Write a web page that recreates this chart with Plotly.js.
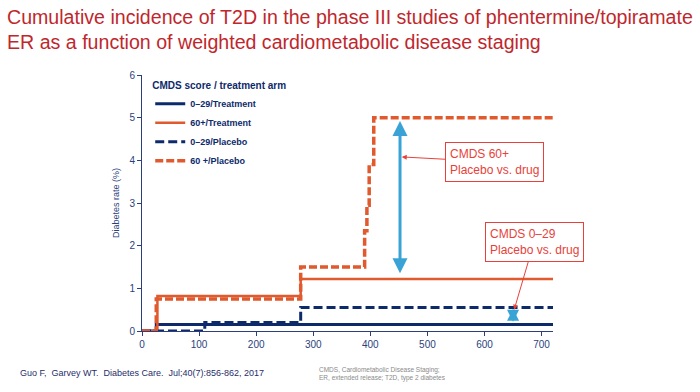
<!DOCTYPE html>
<html><head><meta charset="utf-8">
<script src="https://cdn.plot.ly/plotly-3.0.1.min.js"></script>
<style>body{margin:0;background:#fff}#c{width:700px;height:392px}</style>
</head><body><div id="c"></div>
<script>
// Step-function data (days, diabetes rate %)
const t029x = [0, 25, 720];
const t029y = [0, 0.15, 0.15];
const t60x = [0, 27, 278, 720];
const t60y = [0, 0.82, 1.22, 1.22];
const p029x = [0, 110, 278, 720];
const p029y = [0, 0.2, 0.55, 0.55];
const p60x = [0, 25, 278, 390, 394, 398, 406, 720];
const p60y = [0, 0.75, 1.5, 2.35, 2.95, 3.9, 5.0, 5.0];
const seriesNames = ['0\u201329/Treatment', '60+/Treatment', '0\u201329/Placebo', '60 +/Placebo'];
const xTicks = [0, 100, 200, 300, 400, 500, 600, 700];
const yTicks = [0, 1, 2, 3, 4, 5, 6];

const navy = '#0d2a6b', orange = '#e05a2e', blue = '#3aa3d6', red = '#e8413a';
const mk = (x, y, name, color, dash, w) => ({x, y, name: '<b>' + name + '</b>', type: 'scatter', mode: 'lines',
  line: {shape: 'hv', color, dash, width: w}, hoverinfo: 'skip'});
const data = [
  mk(t029x, t029y, seriesNames[0], navy, 'solid', 3),
  mk(t60x, t60y, seriesNames[1], orange, 'solid', 2.5),
  mk(p029x, p029y, seriesNames[2], navy, '9px,4px', 3),
  mk(p60x, p60y, seriesNames[3], orange, '8px,3px', 3.5)
];
const axcol = '#2b3f7c';
const pw = 700 - 142 - 147, ph = 392 - 75 - 61;
const px = v => (v - 142) / pw, py = v => (392 - 61 - v) / ph;
const layout = {
  width: 700, height: 392,
  margin: {l: 142, r: 147, t: 75, b: 61},
  paper_bgcolor: '#fff', plot_bgcolor: '#fff',
  font: {family: 'Liberation Sans, Arial', color: axcol, size: 10},
  xaxis: {range: [0, 720], tickvals: xTicks, ticks: 'outside', ticklen: 4, tickcolor: axcol,
    showline: true, linecolor: axcol, linewidth: 1, showgrid: false, zeroline: false,
    tickfont: {size: 10, color: axcol}},
  yaxis: {range: [0, 6], tickvals: yTicks, ticks: 'outside', ticklen: 4, tickcolor: axcol,
    showline: true, linecolor: axcol, linewidth: 1, showgrid: false, zeroline: false,
    tickfont: {size: 10, color: axcol},
    title: {text: 'Diabetes rate (%)', standoff: 8, font: {size: 9, color: axcol}}},
  showlegend: true,
  legend: {x: 0.02, y: 0.995, xanchor: 'left', yanchor: 'top', bgcolor: 'rgba(0,0,0,0)',
    font: {size: 9, color: navy},
    title: {text: '<b>CMDS score / treatment arm</b>', font: {size: 10, color: navy}},
    tracegroupgap: 0},
  annotations: [
    {x: 452, y: 4.92, ax: 452, ay: 1.32, axref: 'x', ayref: 'y', xref: 'x', yref: 'y', text: '',
      showarrow: true, arrowside: 'end+start', arrowhead: 2, arrowsize: 1, arrowwidth: 3, arrowcolor: blue},
    {x: 650, y: 0.52, ax: 650, ay: 0.18, axref: 'x', ayref: 'y', xref: 'x', yref: 'y', text: '',
      showarrow: true, arrowside: 'end+start', arrowhead: 2, arrowsize: 0.8, arrowwidth: 3, arrowcolor: blue},
    {x: 455, y: 4.08, xref: 'x', yref: 'y', ax: 93, ay: 5, text: 'CMDS 60+<br>Placebo vs. drug', align: 'left',
      showarrow: true, arrowhead: 2, arrowsize: 1, arrowwidth: 1, arrowcolor: red,
      bordercolor: red, borderwidth: 1, borderpad: 4, bgcolor: '#fff',
      font: {size: 12, color: red}},
    {x: 652, y: 0.5, xref: 'x', yref: 'y', ax: 20, ay: -68, text: 'CMDS 0\u201329<br>Placebo vs. drug', align: 'left',
      showarrow: true, arrowhead: 2, arrowsize: 1, arrowwidth: 1, arrowcolor: red,
      bordercolor: red, borderwidth: 1, borderpad: 4, bgcolor: '#fff',
      font: {size: 12, color: red}},
    {x: px(5), y: py(4), xref: 'paper', yref: 'paper', xanchor: 'left', yanchor: 'top', align: 'left', showarrow: false,
      text: 'Cumulative incidence of T2D in the phase III studies of phentermine/topiramate<br>ER as a function of weighted cardiometabolic disease staging',
      font: {size: 19.6, color: '#c0272d'}},
    {x: px(18), y: py(373), xref: 'paper', yref: 'paper', text: 'Guo F,  Garvey WT.  Diabetes Care.  Jul;40(7):856-862, 2017',
      showarrow: false, xanchor: 'left', yanchor: 'middle',
      font: {size: 9, color: '#1f2d6b'}},
    {x: px(317), y: py(374), xref: 'paper', yref: 'paper', text: 'CMDS, Cardiometabolic Disease Staging;<br>ER, extended release; T2D, type 2 diabetes',
      showarrow: false, xanchor: 'left', yanchor: 'middle', align: 'left',
      font: {size: 6.5, color: '#8a8a8a'}}
  ]
};
Plotly.newPlot('c', data, layout, {displayModeBar: false, staticPlot: true});
</script></body></html>
